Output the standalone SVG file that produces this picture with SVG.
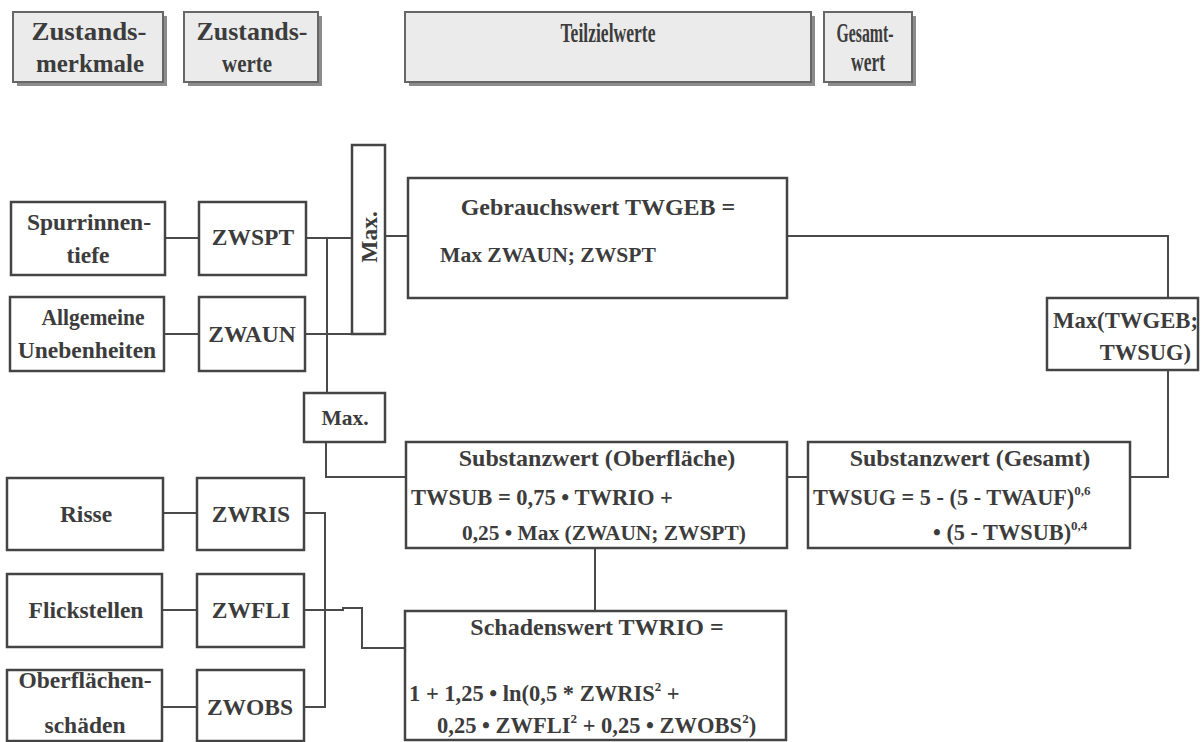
<svg xmlns="http://www.w3.org/2000/svg" width="1201" height="742" viewBox="0 0 1201 742">
<style>
text{font-family:"Liberation Serif","Times New Roman",serif;font-weight:bold;fill:#3c3c3c}
.hb{fill:#ebebeb;stroke:#666;stroke-width:2}
.sh{fill:#8c8c8c}
.nb{fill:#fff;stroke:#444;stroke-width:2.5}
.ln{fill:none;stroke:#4a4a4a;stroke-width:2}
.h{font-size:25px}
.hc{font-size:28px}
.l{font-size:23.5px}
.ti{font-size:24px}
.f{font-size:22.5px}
.s{font-size:13px}
</style>
<rect width="1201" height="742" fill="#fff"/>
<g id="header-zustandsmerkmale">
<rect class="sh" x="17" y="16" width="150" height="70"/>
<rect class="hb" x="13" y="12" width="150" height="70"/>
<text class="h" x="89" y="40" text-anchor="middle" textLength="115" lengthAdjust="spacingAndGlyphs">Zustands-</text>
<text class="h" x="90" y="72" text-anchor="middle" textLength="108" lengthAdjust="spacingAndGlyphs">merkmale</text>
</g>
<g id="header-zustandswerte">
<rect class="sh" x="188" y="16" width="134" height="70"/>
<rect class="hb" x="184" y="12" width="134" height="70"/>
<text class="h" x="252" y="40" text-anchor="middle" textLength="111" lengthAdjust="spacingAndGlyphs">Zustands-</text>
<text class="h" x="247" y="72" text-anchor="middle" textLength="50" lengthAdjust="spacingAndGlyphs">werte</text>
</g>
<g id="header-teilzielwerte">
<rect class="sh" x="409" y="16" width="406" height="70"/>
<rect class="hb" x="405" y="12" width="406" height="70"/>
<text class="hc" x="608" y="42" text-anchor="middle" textLength="95" lengthAdjust="spacingAndGlyphs">Teilzielwerte</text>
</g>
<g id="header-gesamtwert">
<rect class="sh" x="828" y="16" width="88" height="70"/>
<rect class="hb" x="824" y="12" width="88" height="70"/>
<text class="hc" x="865" y="42" text-anchor="middle" textLength="57" lengthAdjust="spacingAndGlyphs">Gesamt-</text>
<text class="hc" x="868" y="71" text-anchor="middle" textLength="34" lengthAdjust="spacingAndGlyphs">wert</text>
</g>
<g id="connectors">
<path class="ln" d="M165 238H199"/>
<path class="ln" d="M164 334H199"/>
<path class="ln" d="M306 238H352"/>
<path class="ln" d="M327 238V393"/>
<path class="ln" d="M305 334H386"/>
<path class="ln" d="M385 236H408"/>
<path class="ln" d="M787 236H1168V298"/>
<path class="ln" d="M1168 370V477H1130"/>
<path class="ln" d="M787 477H808"/>
<path class="ln" d="M326 442V477H406"/>
<path class="ln" d="M595 548V611"/>
<path class="ln" d="M163 513H197"/>
<path class="ln" d="M304 513H325V707H304"/>
<path class="ln" d="M162 707H197"/>
<path class="ln" d="M162 610H197"/>
<path class="ln" d="M304 610H343V608H362V648H405"/>
</g>
<g id="spurrinnentiefe">
<rect class="nb" x="11" y="202" width="154" height="73"/>
<text class="l" x="89" y="230" text-anchor="middle">Spurrinnen-</text>
<text class="l" x="88" y="263" text-anchor="middle">tiefe</text>
</g>
<g id="zwspt">
<rect class="nb" x="199" y="202" width="107" height="73"/>
<text class="l" x="253" y="245" text-anchor="middle">ZWSPT</text>
</g>
<g id="allgemeine-unebenheiten">
<rect class="nb" x="10" y="297" width="154" height="74"/>
<text class="l" x="93" y="325" text-anchor="middle" textLength="103" lengthAdjust="spacingAndGlyphs">Allgemeine</text>
<text class="l" x="87" y="358" text-anchor="middle">Unebenheiten</text>
</g>
<g id="zwaun">
<rect class="nb" x="199" y="297" width="106" height="74"/>
<text class="l" x="252" y="342" text-anchor="middle">ZWAUN</text>
</g>
<g id="max-vertical">
<rect class="nb" x="352" y="145" width="33" height="189"/>
<text class="l" transform="translate(377,237) rotate(-90)" x="0" y="0" text-anchor="middle">Max.</text>
</g>
<g id="max-small">
<rect class="nb" x="304" y="393" width="81" height="49"/>
<text class="l" x="345" y="425" text-anchor="middle" style="font-size:21.5px">Max.</text>
</g>
<g id="gebrauchswert">
<rect class="nb" x="408" y="178" width="379" height="120"/>
<text class="ti" x="598" y="215" text-anchor="middle">Gebrauchswert TWGEB =</text>
<text class="f" x="440" y="262" style="font-size:21.6px">Max ZWAUN; ZWSPT</text>
</g>
<g id="gesamtwert-max">
<rect class="nb" x="1047" y="298" width="151" height="72"/>
<text class="f" x="1053" y="328" textLength="145" lengthAdjust="spacingAndGlyphs">Max(TWGEB;</text>
<text class="f" x="1191" y="360" text-anchor="end">TWSUG)</text>
</g>
<g id="substanzwert-oberflaeche">
<rect class="nb" x="406" y="442" width="381" height="106"/>
<text class="ti" x="597" y="466" text-anchor="middle">Substanzwert (Oberfläche)</text>
<text class="f" x="411" y="505">TWSUB = 0,75 • TWRIO +</text>
<text class="f" x="462" y="540" style="font-size:21.4px">0,25 • Max (ZWAUN; ZWSPT)</text>
</g>
<g id="substanzwert-gesamt">
<rect class="nb" x="808" y="442" width="322" height="106"/>
<text class="ti" x="970" y="466" text-anchor="middle">Substanzwert (Gesamt)</text>
<text class="f" x="813" y="505" style="font-size:22.3px">TWSUG = 5 - (5 - TWAUF)<tspan class="s" dy="-10">0,6</tspan></text>
<text class="f" x="933" y="540" style="font-size:22.3px">• (5 - TWSUB)<tspan class="s" dy="-10">0,4</tspan></text>
</g>
<g id="schadenswert">
<rect class="nb" x="405" y="611" width="381" height="129"/>
<text class="ti" x="597" y="635" text-anchor="middle">Schadenswert TWRIO =</text>
<text class="f" x="409" y="701">1 + 1,25 • ln(0,5 * ZWRIS<tspan class="s" dy="-10">2</tspan><tspan dy="10"> +</tspan></text>
<text class="f" x="437" y="733">0,25 • ZWFLI<tspan class="s" dy="-10">2</tspan><tspan dy="10"> + 0,25 • ZWOBS</tspan><tspan class="s" dy="-10">2</tspan><tspan dy="10">)</tspan></text>
</g>
<g id="risse">
<rect class="nb" x="7" y="478" width="156" height="72"/>
<text class="l" x="86" y="522" text-anchor="middle">Risse</text>
</g>
<g id="zwris">
<rect class="nb" x="197" y="478" width="107" height="72"/>
<text class="l" x="251" y="522" text-anchor="middle">ZWRIS</text>
</g>
<g id="flickstellen">
<rect class="nb" x="7" y="574" width="155" height="73"/>
<text class="l" x="86" y="618" text-anchor="middle">Flickstellen</text>
</g>
<g id="zwfli">
<rect class="nb" x="197" y="574" width="107" height="73"/>
<text class="l" x="251" y="618" text-anchor="middle">ZWFLI</text>
</g>
<g id="oberflaechenschaeden">
<rect class="nb" x="7" y="670" width="155" height="71"/>
<text class="l" x="85" y="688" text-anchor="middle">Oberflächen-</text>
<text class="l" x="85" y="733" text-anchor="middle">schäden</text>
</g>
<g id="zwobs">
<rect class="nb" x="197" y="670" width="107" height="71"/>
<text class="l" x="250" y="715" text-anchor="middle">ZWOBS</text>
</g>
</svg>
